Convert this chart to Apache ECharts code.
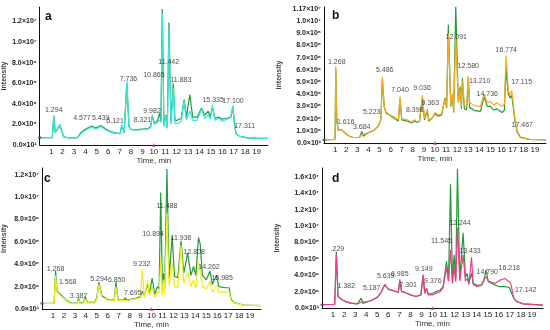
<!DOCTYPE html>
<html><head><meta charset="utf-8">
<script src="https://cdn.jsdelivr.net/npm/echarts@6/dist/echarts.min.js"></script>
<style>html,body{margin:0;padding:0;background:#fff}#c{width:550px;height:330px}</style>
</head><body><div id="c"></div>
<script>
// values in units of 1e6 counts, time in min
const aTime = [0, 1.1, 1.23, 1.36, 1.5, 1.76, 2.1, 2.6, 3.3, 3.6, 3.9, 4.2, 4.55, 4.9, 5.35, 5.8, 6.1, 6.5, 7.05, 7.19, 7.4, 7.63, 7.82, 8.0, 8.5, 9.0, 9.5, 9.72, 9.86, 10.05, 10.3, 10.5, 10.62, 10.74, 10.88, 11.05, 11.18, 11.32, 11.5, 11.7, 11.85, 12.05, 12.4, 12.65, 12.85, 13.15, 13.4, 13.8, 14.17, 14.45, 14.75, 14.95, 15.12, 15.35, 15.7, 16.0, 16.4, 16.75, 16.92, 17.05, 17.2, 17.5, 18.2, 19.0, 20.0];
const aGreen = [0.72, 0.72, 2.8, 1.2, 1.1, 1.9, 0.8, 0.68, 0.72, 1.2, 1.45, 1.65, 1.85, 1.65, 1.9, 1.55, 1.35, 1.2, 1.1, 1.9, 1.2, 6.0, 1.8, 1.5, 1.5, 1.55, 1.6, 1.8, 2.8, 2.1, 2.3, 3.1, 2.3, 13.2, 1.9, 2.9, 1.7, 11.9, 2.2, 6.0, 2.4, 2.4, 2.6, 4.4, 2.7, 4.9, 2.7, 2.7, 3.6, 2.9, 3.3, 2.7, 3.7, 2.6, 2.7, 2.5, 2.6, 2.7, 3.7, 2.2, 1.1, 0.85, 0.7, 0.65, 0.65];
const aCyan = [0.72, 0.72, 2.9, 1.2, 1.1, 2.0, 0.8, 0.68, 0.72, 1.1, 1.35, 1.55, 1.75, 1.55, 1.8, 1.45, 1.3, 1.15, 1.1, 2.0, 1.2, 6.2, 1.8, 1.5, 1.45, 1.5, 1.55, 1.7, 2.9, 2.0, 2.2, 2.4, 2.2, 12.8, 1.8, 2.8, 1.6, 11.4, 2.0, 5.5, 2.1, 2.1, 2.3, 4.3, 2.4, 3.3, 2.4, 2.4, 3.5, 2.6, 2.9, 2.5, 3.9, 2.4, 2.6, 2.3, 2.5, 2.7, 3.85, 2.2, 1.1, 0.85, 0.7, 0.65, 0.65];

const bTime = [0, 1.0, 1.06, 1.15, 1.3, 1.5, 1.62, 1.8, 2.2, 2.6, 3.2, 3.4, 3.55, 4.0, 4.5, 4.9, 5.12, 5.26, 5.42, 5.6, 6.2, 6.7, 6.85, 7.0, 7.5, 7.9, 8.15, 8.35, 8.6, 8.87, 9.05, 9.3, 9.45, 9.7, 10.0, 10.3, 10.6, 10.9, 11.05, 11.2, 11.42, 11.57, 11.68, 11.87, 12.1, 12.28, 12.38, 12.47, 12.65, 12.85, 13.0, 13.12, 13.6, 14.1, 14.42, 14.72, 15.0, 15.3, 15.55, 16.05, 16.25, 16.4, 16.6, 16.77, 16.92, 17.2, 17.4, 17.7, 18.5, 20];
const bGreen = [0.25, 0.3, 6.1, 1.8, 1.0, 1.1, 1.2, 0.9, 0.6, 0.45, 0.45, 0.95, 0.55, 0.85, 1.05, 1.4, 1.9, 5.2, 3.0, 2.5, 2.1, 1.8, 3.6, 1.9, 1.8, 1.65, 1.8, 1.7, 1.75, 3.7, 1.9, 2.6, 1.8, 2.0, 2.4, 2.2, 2.3, 3.7, 2.9, 9.7, 3.0, 4.0, 2.5, 11.2, 3.3, 4.6, 2.8, 5.3, 2.8, 2.7, 5.3, 2.9, 2.65, 2.6, 3.8, 3.0, 3.0, 2.7, 2.8, 2.5, 2.7, 6.1, 4.0, 3.7, 3.9, 1.8, 0.9, 0.45, 0.3, 0.25];
const bOrange = [0.25, 0.3, 6.3, 2.0, 1.0, 1.1, 1.25, 0.9, 0.6, 0.45, 0.45, 0.7, 0.55, 0.85, 1.05, 1.4, 1.9, 5.4, 3.0, 2.4, 2.2, 1.9, 3.8, 2.0, 1.9, 1.7, 1.9, 1.75, 1.8, 3.9, 2.0, 2.8, 1.9, 2.0, 2.5, 2.3, 2.4, 3.6, 3.0, 9.0, 3.1, 4.1, 2.6, 8.8, 3.3, 4.4, 3.0, 5.1, 3.1, 3.0, 5.5, 3.3, 3.05, 3.0, 4.0, 3.3, 3.4, 3.1, 3.3, 3.0, 3.2, 7.2, 4.3, 3.9, 4.3, 2.0, 1.0, 0.5, 0.3, 0.25];

const cTime = [0, 1.1, 1.24, 1.38, 1.54, 1.8, 2.2, 2.6, 3.2, 3.34, 3.5, 3.8, 3.94, 4.15, 4.8, 5.0, 5.2, 5.45, 6.0, 6.6, 6.76, 6.95, 7.5, 7.6, 7.75, 8.5, 9.0, 9.16, 9.35, 9.64, 9.82, 10.06, 10.3, 10.54, 10.7, 10.84, 11.0, 11.1, 11.2, 11.41, 11.6, 11.89, 12.1, 12.4, 12.7, 12.95, 13.3, 13.6, 13.84, 14.05, 14.29, 14.45, 14.65, 15.0, 15.34, 15.55, 15.94, 16.15, 16.75, 17.1, 17.25, 17.5, 18.4, 20];
const cGreen = [0.5, 0.5, 3.4, 1.6, 1.7, 1.2, 0.8, 0.55, 0.5, 0.95, 0.5, 0.6, 1.1, 0.6, 0.6, 1.0, 2.4, 1.2, 0.85, 0.8, 2.4, 0.8, 0.8, 1.0, 0.8, 0.95, 1.1, 1.6, 1.2, 2.2, 1.4, 2.75, 1.3, 2.0, 1.8, 10.4, 1.6, 3.2, 1.8, 12.5, 2.7, 6.5, 2.9, 2.8, 6.1, 3.2, 5.0, 3.0, 3.8, 3.0, 6.4, 5.8, 3.0, 2.6, 3.4, 2.2, 3.0, 2.0, 1.9, 1.9, 0.9, 0.6, 0.35, 0.3];
const cYellow = [0.5, 0.5, 3.0, 1.5, 1.6, 1.1, 0.75, 0.5, 0.45, 0.8, 0.45, 0.55, 0.9, 0.55, 0.55, 0.9, 2.2, 1.1, 0.8, 0.75, 2.0, 0.75, 0.75, 0.9, 0.75, 0.9, 1.0, 3.5, 1.0, 2.6, 1.2, 2.0, 1.0, 1.6, 1.4, 4.5, 1.2, 2.6, 1.3, 8.6, 2.1, 4.1, 2.0, 1.9, 5.7, 2.3, 3.3, 2.0, 2.6, 1.9, 4.2, 3.5, 2.0, 1.8, 2.5, 1.5, 2.1, 1.5, 1.5, 1.5, 0.8, 0.55, 0.35, 0.3];

const dTime = [0, 1.15, 1.3, 1.45, 1.6, 1.8, 2.2, 2.6, 3.2, 3.55, 3.7, 4.2, 4.6, 5.0, 5.3, 5.68, 6.0, 6.5, 6.9, 7.05, 7.2, 7.5, 8.0, 8.5, 8.95, 9.15, 9.3, 9.45, 9.62, 10.0, 10.35, 10.7, 10.96, 11.27, 11.45, 11.63, 11.8, 11.96, 12.1, 12.26, 12.47, 12.77, 12.98, 13.13, 13.3, 13.53, 13.68, 14.0, 14.45, 14.65, 14.85, 15.05, 15.65, 16.1, 16.55, 16.95, 17.1, 17.35, 17.6, 18.2, 20];
const dGreen = [0.4, 0.45, 6.9, 1.4, 1.5, 1.0, 0.75, 0.6, 0.5, 1.2, 0.55, 0.8, 1.0, 1.3, 1.8, 2.8, 2.3, 2.1, 1.9, 3.3, 2.0, 1.9, 1.6, 1.4, 1.6, 3.9, 1.8, 2.4, 1.7, 1.8, 2.0, 2.2, 2.6, 5.7, 3.3, 15.1, 3.5, 6.5, 3.5, 17.0, 3.5, 9.2, 3.8, 4.2, 3.0, 4.3, 3.0, 2.8, 2.8, 3.3, 4.7, 3.2, 2.8, 2.6, 2.6, 2.5, 2.4, 1.2, 0.8, 0.5, 0.35];
const dPink = [0.4, 0.45, 6.6, 1.4, 1.5, 1.0, 0.75, 0.6, 0.5, 0.7, 0.55, 0.8, 1.0, 1.3, 1.8, 2.9, 2.3, 2.1, 1.9, 3.5, 2.0, 1.9, 1.6, 1.4, 1.6, 4.1, 1.8, 2.45, 1.6, 1.6, 1.8, 2.0, 2.5, 4.9, 3.3, 7.1, 3.0, 5.0, 3.2, 9.8, 3.3, 6.5, 3.3, 3.6, 2.9, 6.2, 2.9, 2.6, 2.8, 3.5, 3.8, 3.3, 3.0, 3.4, 3.6, 3.2, 2.9, 1.2, 0.8, 0.5, 0.35];

// peak annotations: text and [time, intensity] anchor
const aPeakText = ['1.294','4.577','5.439','6.121','7.736','8.321','9.982','10.865','11.442','11.883','15.335','17.100','17.311'];
const aPeakAt = [[1.23,3.4],[3.7,2.6],[5.35,2.6],[6.6,2.35],[7.77,6.4],[9.0,2.4],[9.84,3.3],[10.0,6.75],[11.3,8.1],[12.37,6.3],[15.19,4.4],[16.93,4.3],[17.95,1.8]];
const bPeakText = ['1.268','1.616','3.684','5.223','5.486','7.040','8.398','9.036','9.363','12.091','12.580','13.210','14.736','16.774','17.115','17.467'];
const bPeakAt = [[1.15,6.6],[1.96,1.7],[3.4,1.28],[4.3,2.5],[5.47,6.0],[6.85,4.36],[8.17,2.72],[8.83,4.5],[9.58,3.27],[11.92,8.7],[13.0,6.3],[14.02,5.1],[14.71,4.0],[16.42,7.6],[17.8,5.0],[17.86,1.47]];
const cPeakText = ['1.268','1.568','3.387','5.294','6.850','7.695','9.232','10.894','11.488','11.936','12.808','14.262','15.985'];
const cPeakAt = [[1.24,3.6],[2.35,2.4],[3.34,1.16],[5.2,2.66],[6.82,2.6],[8.29,1.4],[9.1,4.0],[10.15,6.7],[11.41,9.2],[12.7,6.3],[13.9,5.1],[15.25,3.76],[16.45,2.8]];
const dPeakText = ['.229','1.382','5.187','5.639','6.985','7.301','9.149','9.376','11.545','12.244','13.433','14.790','16.218','17.142'];
const dPeakAt = [[1.39,7.2],[2.2,2.65],[4.5,2.45],[5.77,3.96],[7.04,4.16],[7.8,2.86],[9.22,4.7],[10.03,3.35],[10.82,8.2],[12.48,10.4],[13.39,6.9],[14.96,4.37],[16.95,4.86],[18.43,2.2]];

// y tick labels
const aTicks = ['0.0×10¹','2.0×10⁶','4.0×10⁶','6.0×10⁶','8.0×10⁶','1.0×10⁷','1.2×10⁷'];
const bTicks = ['0.0×10¹','1.0×10⁶','2.0×10⁶','3.0×10⁶','4.0×10⁶','5.0×10⁶','6.0×10⁶','7.0×10⁶','8.0×10⁶','9.0×10⁶','1.0×10⁷','1.17×10⁷'];
const cTicks = ['0.0×10¹','2.0×10⁶','4.0×10⁶','6.0×10⁶','8.0×10⁶','1.0×10⁷','1.2×10⁷'];
const dTicks = ['0.0×10¹','2.0×10⁶','4.0×10⁶','6.0×10⁶','8.0×10⁶','1.0×10⁷','1.2×10⁷','1.4×10⁷','1.6×10⁷'];
// small instrument markers: start of trace on the y axis, and 10 min mark on the x axis
const startMark = [[0, 0.72], [0, 0.25], [0, 0.5], [0, 0.4]];
const tenMinMark = 10;

const GREEN = '#25993b';
const panels = [
  {grid:{left:39, top:7, width:229, height:138}, max:13.4, interval:2, ticks:aTicks, nameGap:31,
   t:aTime, s:[[aGreen,GREEN],[aCyan,'#34e6dc']], pt:aPeakText, pa:aPeakAt},
  {grid:{left:324, top:7, width:222, height:136}, max:11.15, interval:1, ticks:bTicks, nameGap:41,
   t:bTime, s:[[bGreen,GREEN],[bOrange,'#f6a91f']], pt:bPeakText, pa:bPeakAt},
  {grid:{left:39, top:168, width:222, height:141}, max:12.6, interval:2, ticks:cTicks, nameGap:34,
   t:cTime, s:[[cGreen,GREEN],[cYellow,'#eeee1c']], pt:cPeakText, pa:cPeakAt},
  {grid:{left:322, top:168, width:221, height:140}, max:17.1, interval:2, ticks:dTicks, nameGap:41,
   t:dTime, s:[[dGreen,GREEN],[dPink,'#ee3d88']], pt:dPeakText, pa:dPeakAt}
];

const FONT = '"Liberation Sans Narrow", "Liberation Sans", Arial, sans-serif';
const option = {animation:false, backgroundColor:'#fff', grid:[], xAxis:[], yAxis:[], series:[],
  graphic:[
    {type:'text', left:45, top:11, style:{text:'a', font:'bold 12px Liberation Sans, Arial', fill:'#111'}},
    {type:'text', left:332, top:10, style:{text:'b', font:'bold 12px Liberation Sans, Arial', fill:'#111'}},
    {type:'text', left:44, top:173, style:{text:'c', font:'bold 12px Liberation Sans, Arial', fill:'#111'}},
    {type:'text', left:332, top:173, style:{text:'d', font:'bold 12px Liberation Sans, Arial', fill:'#111'}}
  ]};

panels.forEach((p, i) => {
  option.grid.push(p.grid);
  option.xAxis.push({type:'value', gridIndex:i, min:0, max:20, interval:1,
    name:'Time, min', nameLocation:'middle', nameGap:12,
    nameTextStyle:{fontSize:8, color:'#333', fontFamily:FONT},
    axisLine:{lineStyle:{color:'#111', width:1}}, axisTick:{show:false}, splitLine:{show:false},
    axisLabel:{fontSize:8, color:'#222', margin:3, fontFamily:FONT,
      formatter:v => (v >= 1 && v <= 19) ? String(v) : ''}});
  option.yAxis.push({type:'value', gridIndex:i, min:0, max:p.max, interval:p.interval,
    name:'Intensity', nameLocation:'middle', nameGap:p.nameGap,
    nameTextStyle:{fontSize:7, color:'#444', fontWeight:'bold', fontFamily:FONT},
    axisLine:{show:true, lineStyle:{color:'#111', width:1}}, axisTick:{show:false}, splitLine:{show:false},
    axisLabel:{fontSize:7, color:'#222', fontWeight:'bold', margin:3, fontFamily:FONT,
      formatter:v => {const k = Math.round(v / p.interval); return Math.abs(k*p.interval - v) < 1e-6 && p.ticks[k] ? p.ticks[k] : '';}}});
  p.s.forEach(([vals, col]) => {
    option.series.push({type:'line', xAxisIndex:i, yAxisIndex:i, symbol:'none', smooth:false,
      lineStyle:{color:col, width:1.2}, data:p.t.map((t, j) => [t, vals[j]])});
  });
  option.series.push({type:'scatter', xAxisIndex:i, yAxisIndex:i, symbolSize:0, silent:true, z:5,
    label:{show:true, position:'inside', formatter:'{b}', fontSize:7, color:'#1a1a1a', fontFamily:FONT},
    data:p.pt.map((txt, j) => ({name:txt, value:p.pa[j]}))});
  option.series.push({type:'scatter', xAxisIndex:i, yAxisIndex:i, silent:true, z:6,
    symbol:'rect', symbolSize:[3,2], itemStyle:{color:'#2233aa'}, data:[startMark[i]]});
  option.series.push({type:'scatter', xAxisIndex:i, yAxisIndex:i, silent:true, z:6,
    symbol:'triangle', symbolSize:4, itemStyle:{color:'#c040b0'}, data:[[tenMinMark, 0]]});
});

echarts.init(document.getElementById('c'), null, {renderer:'canvas'}).setOption(option);
</script></body></html>
